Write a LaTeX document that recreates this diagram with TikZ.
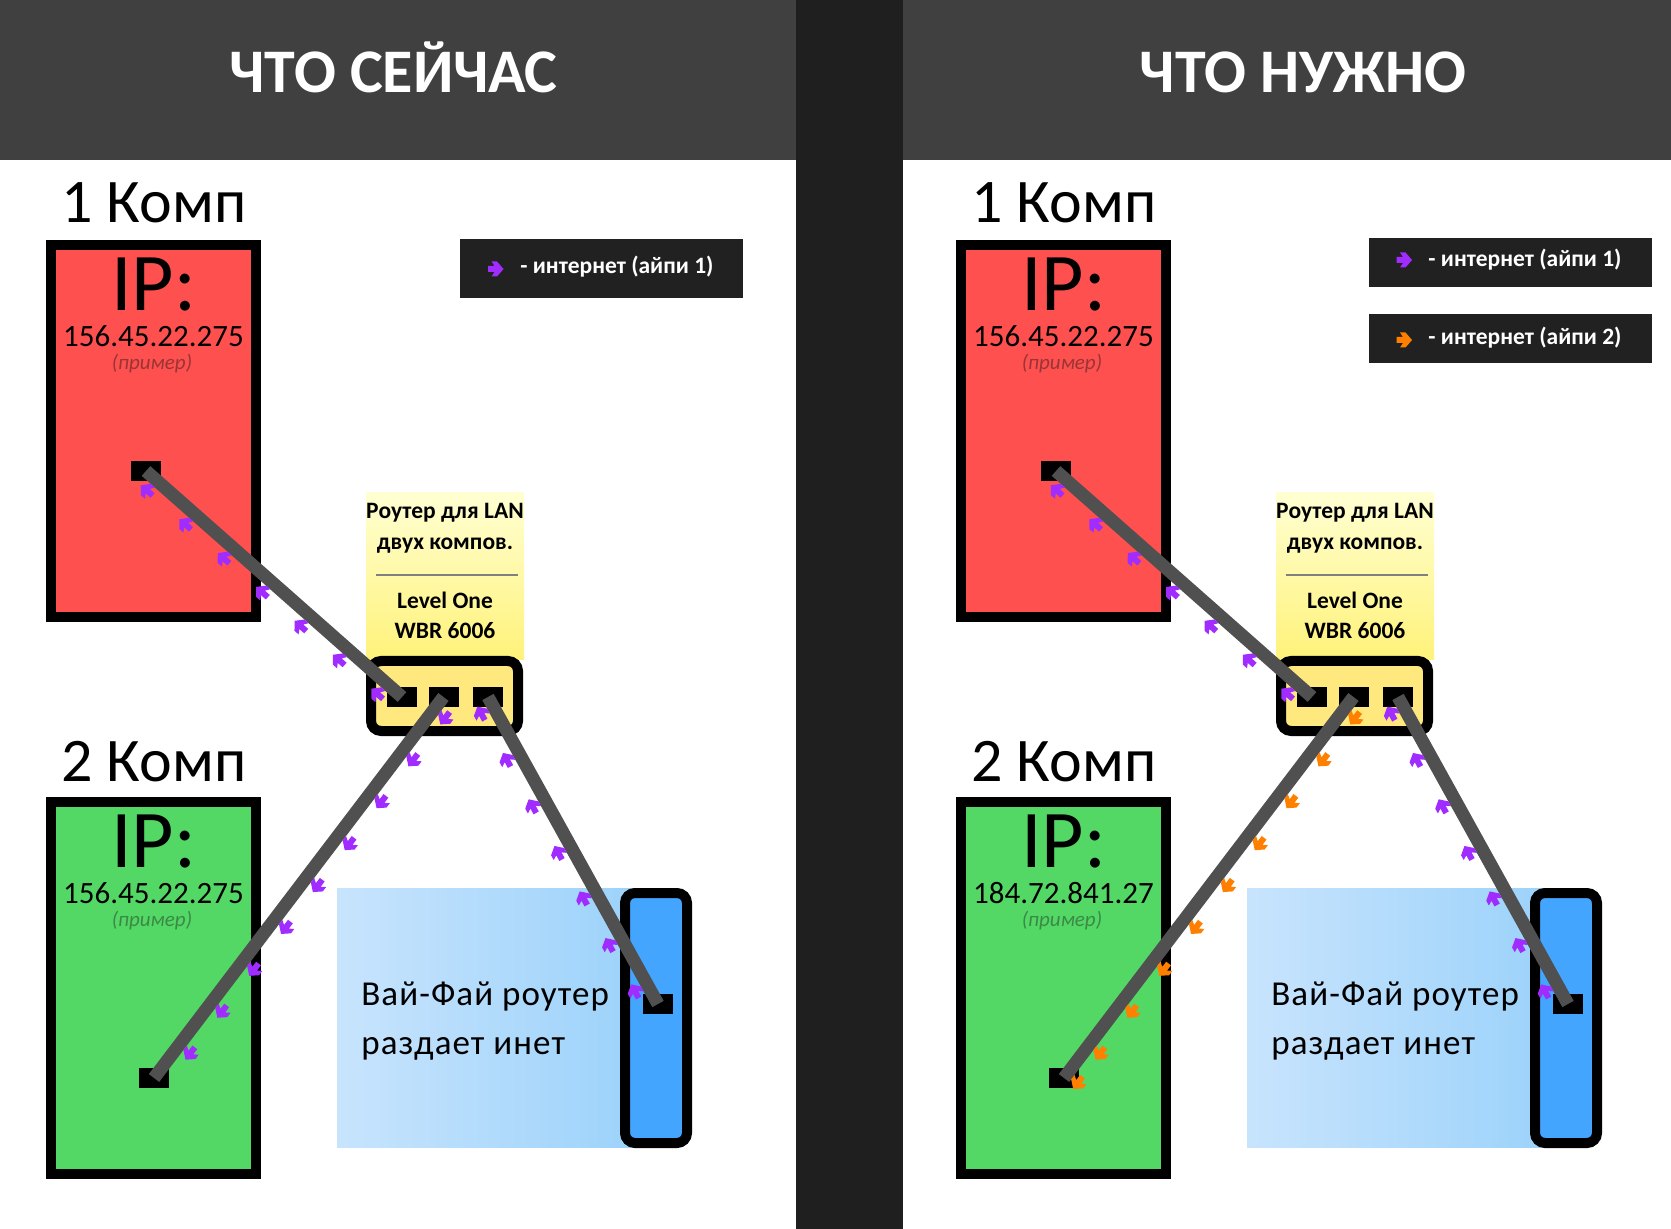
\documentclass[tikz,border=0pt]{standalone}
\usepackage{fontspec}
\setmainfont{Carlito}
\usetikzlibrary{calc}
\definecolor{hdrgray}{HTML}{404040}
\definecolor{divgray}{HTML}{1F1F1F}
\definecolor{leggray}{HTML}{212121}
\definecolor{compred}{HTML}{FF5050}
\definecolor{compgreen}{HTML}{53D866}
\definecolor{wifiblue}{HTML}{44A5FF}
\definecolor{routeryellow}{HTML}{FFE97F}
\definecolor{labeltop}{HTML}{FFFFD2}
\definecolor{labelbot}{HTML}{FFF27A}
\definecolor{wifileft}{HTML}{C8E4FD}
\definecolor{wifiright}{HTML}{9CD2FA}
\definecolor{cablegray}{HTML}{505050}
\definecolor{arrpurple}{HTML}{A02CFF}
\definecolor{arrorange}{HTML}{FF8000}
\definecolor{exred}{HTML}{9B3434}
\definecolor{exgreen}{HTML}{3A8A46}
\definecolor{sepgray}{HTML}{808080}
\tikzset{
 netarrow/.pic={\fill (-7.5,-3) -- (-1,-3) -- (-4,-7.5) -- (1.5,-7.5) -- (8,0) -- (1.5,7.5) -- (-4,7.5) -- (-1,3) -- (-7.5,3) -- cycle;},
 compbox/.style={draw=black, line width=5pt, minimum width=102.5pt, minimum height=186pt, inner sep=0pt},
 portbox/.style={fill=black, minimum width=15pt, minimum height=10pt, inner sep=0pt},
 cable/.style={draw=cablegray, line width=6.5pt},
 hdrtext/.style={text=white, font=\fontsize{31}{37}\selectfont\bfseries, inner sep=0pt},
 comptitle/.style={font=\fontsize{31}{37}\selectfont, inner sep=0pt},
 iptag/.style={font=\fontsize{41}{49}\selectfont, inner sep=0pt, text depth=0pt},
 ipnum/.style={font=\fontsize{15.5}{19}\selectfont, inner sep=0pt, text depth=0pt},
 extext/.style={font=\fontsize{10.5}{13}\selectfont\itshape, inner sep=0pt},
 lbltext/.style={font=\fontsize{11.75}{14}\selectfont\bfseries, inner sep=0pt},
 wifitext/.style={font=\fontsize{17.5}{21}\selectfont\addfontfeature{LetterSpace=3}, inner sep=0pt},
 legbox/.style={fill=leggray, minimum width=141.5pt, inner sep=0pt},
 legtext/.style={text=white, font=\fontsize{11.75}{14}\selectfont\bfseries, inner sep=0pt},
}
\newcommand\flowarrows[4]{%
  \foreach \t in {#4}{%
    \path let \p1=($(#2)-(#1)$), \n1={atan2(\y1,\x1)} in
      ($(#1)!\t!(#2)!7pt!90:(#2)$) pic[rotate=\n1, color=#3] {netarrow};
  }}
\newcommand\drawpanel[4]{%
 \node[compbox, fill=compred] (#1c1) at (153.5,431) {};
 \node[compbox, fill=compgreen] (#1c2) at (153.5,987.5) {};
 \node[minimum width=79pt, minimum height=83.5pt, inner sep=0pt, top color=labeltop, bottom color=labelbot, draw=none] (#1lbl) at (445,576.5) {};
 \node[draw=black, line width=5pt, fill=routeryellow, rounded corners=5pt, minimum width=73.5pt, minimum height=35pt, inner sep=0pt] (#1rt) at (444.5,696) {};
 \node[minimum width=151pt, minimum height=129.5pt, inner sep=0pt, left color=wifileft, right color=wifiright] (#1wbg) at (488,1017.5) {};
 \node[draw=black, line width=5pt, fill=wifiblue, rounded corners=5pt, minimum width=31pt, minimum height=125pt, inner sep=0pt] (#1wr) at (656,1018) {};
 \node[portbox] (#1p1) at (146,471) {};
 \node[portbox] (#1p2) at (154,1078) {};
 \node[portbox] (#1r1) at (402,697) {};
 \node[portbox] (#1r2) at (443.5,697) {};
 \node[portbox] (#1r3) at (488,697) {};
 \node[portbox] (#1wp) at (658,1004) {};
 \node[comptitle, anchor=base west] (#1t1) at (61,223) {1 Комп};
 \node[comptitle, anchor=base west] (#1t2) at (61,781) {2 Комп};
 \node[iptag, anchor=base] (#1ipa) at (153.5,311) {IP:};
 \node[ipnum, anchor=base] (#1ipan) at (153.5,347) {156.45.22.275};
 \node[extext, text=exred, anchor=base] (#1exa) at (152,370) {(пример)};
 \node[iptag, anchor=base] (#1ipb) at (153.5,867) {IP:};
 \node[ipnum, anchor=base] (#1ipbn) at (153.5,903) {#2};
 \node[extext, text=exgreen, anchor=base] (#1exb) at (152,926) {(пример)};
 \node[lbltext, anchor=base] (#1la) at (445,519) {Роутер для LAN};
 \node[lbltext, anchor=base] (#1lb) at (445,550) {двух компов.};
 \node[lbltext, anchor=base] (#1lc) at (445,609) {Level One};
 \node[lbltext, anchor=base] (#1ld) at (445,639) {WBR 6006};
 \draw[sepgray, line width=1pt] (376,575) -- (518,575);
 \node[wifitext, anchor=base west] (#1wa) at (361,1005) {Вай-Фай роутер};
 \node[wifitext, anchor=base west] (#1wb) at (361,1054) {раздает инет};
 \draw[cable] (#1p1.center) -- (#1r1.center);
 \draw[cable] (#1r2.center) -- (#1p2.center);
 \draw[cable] (#1r3.center) -- (#1wp.center);
 \flowarrows{#1r1.center}{#1p1.center}{arrpurple}{0.06,0.21,0.36,0.51,0.66,0.81,0.96}
 \flowarrows{#1r2.center}{#1p2.center}{#3}{#4}
 \flowarrows{#1wp.center}{#1r3.center}{arrpurple}{0.063,0.214,0.366,0.514,0.666,0.817,0.968}
}
\begin{document}
\begin{tikzpicture}[x=0.5pt,y=-0.5pt]
\useasboundingbox (0,0) rectangle (1671,1229);
\fill[white] (0,0) rectangle (1671,1229);
\fill[hdrgray] (0,0) rectangle (796,160);
\fill[hdrgray] (903,0) rectangle (1671,160);
\fill[divgray] (796,0) rectangle (903,1229);
\node[hdrtext, anchor=base] (h1) at (393.5,93) {ЧТО СЕЙЧАС};
\node[hdrtext, anchor=base] (h2) at (1303,93) {ЧТО НУЖНО};
\drawpanel{L}{156.45.22.275}{arrpurple}{0.033,0.143,0.253,0.363,0.473,0.583,0.693,0.803,0.913}
\begin{scope}[shift={(910,0)}]
\drawpanel{R}{184.72.841.27}{arrorange}{0.033,0.143,0.253,0.363,0.473,0.583,0.693,0.803,0.913,0.99}
\end{scope}
\node[legbox, minimum height=29.5pt] (leg) at (601.5,268.5) {};
\path (495.5,269) pic[color=arrpurple] {netarrow};
\node[legtext, anchor=base west] (legt) at (520,274) {- интернет (айпи 1)};
\node[legbox, minimum height=24.5pt] (rleg1) at (1510.5,262.5) {};
\node[legbox, minimum height=24.5pt] (rleg2) at (1510.5,338.5) {};
\path (1404,260) pic[color=arrpurple] {netarrow};
\path (1404,340) pic[color=arrorange] {netarrow};
\node[legtext, anchor=base west] (rlegt1) at (1428,267) {- интернет (айпи 1)};
\node[legtext, anchor=base west] (rlegt2) at (1428,345) {- интернет (айпи 2)};
\end{tikzpicture}
\end{document}
